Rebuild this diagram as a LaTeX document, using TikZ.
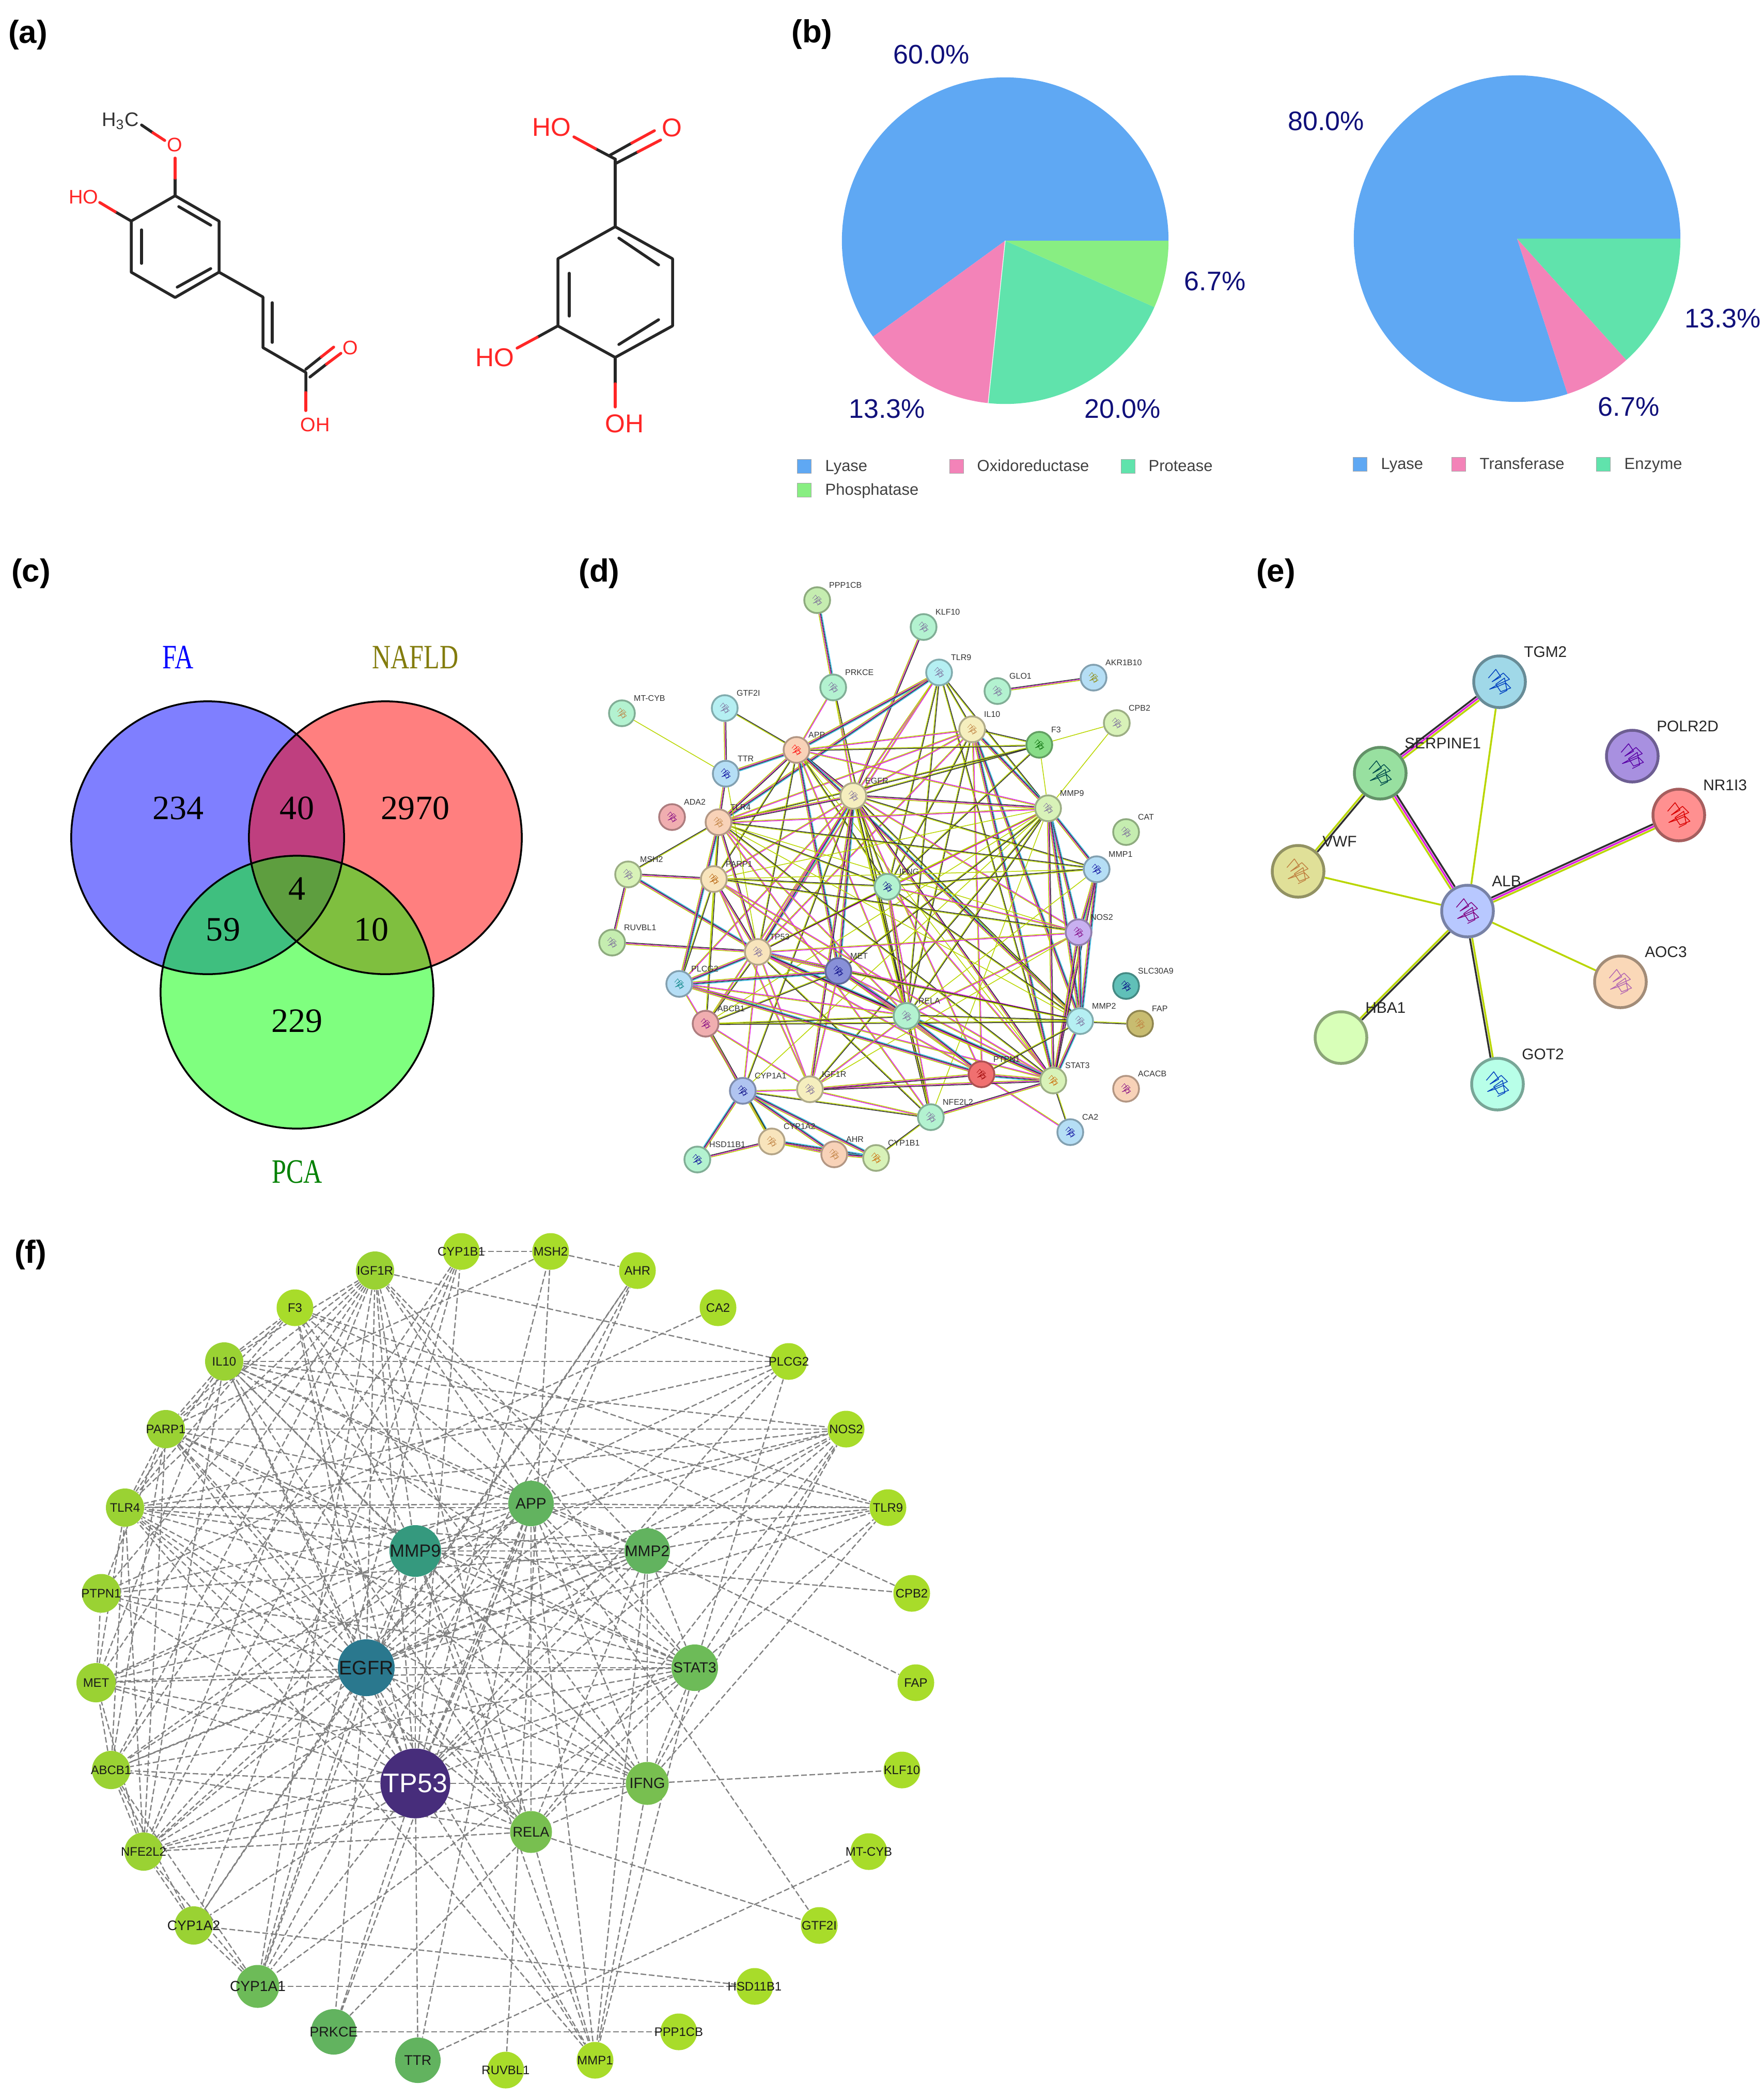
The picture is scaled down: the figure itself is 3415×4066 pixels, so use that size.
\documentclass[tikz,border=0pt]{standalone}
\usepackage{fontspec}
\setmainfont{Liberation Sans}
\newfontfamily\vennfont{Liberation Serif}
\usetikzlibrary{backgrounds,decorations}
\pgfdeclaredecoration{strandline}{initial}{
\state{initial}[width=\pgfdecoratedpathlength-.1pt,next state=final]{\pgfpathmoveto{\pgfpointorigin}\pgfpathlineto{\pgfpoint{\pgfdecoratedpathlength}{0pt}}}
\state{final}{}
}
\definecolor{atomred}{HTML}{FF2626}
\definecolor{bondgrey}{HTML}{262626}
\definecolor{pieblue}{HTML}{5FA8F3}
\definecolor{piepink}{HTML}{F383B8}
\definecolor{pieteal}{HTML}{60E3AC}
\definecolor{pielime}{HTML}{88EE82}
\definecolor{pietext}{HTML}{10107A}
\definecolor{legtext}{HTML}{404040}
\definecolor{linky}{HTML}{B9D600}
\definecolor{linkm}{HTML}{E020E0}
\definecolor{linkk}{HTML}{2F2F2F}
\definecolor{linkc}{HTML}{2FB5E5}
\definecolor{foldc}{HTML}{7A6A9A}
\definecolor{dsage}{HTML}{C5EDB0}
\definecolor{dmint}{HTML}{B3F2D0}
\definecolor{dcyan}{HTML}{B5EFF2}
\definecolor{dsky}{HTML}{B5DEF5}
\definecolor{dlime}{HTML}{D8F2B8}
\definecolor{dcream}{HTML}{F5EEBE}
\definecolor{dpeach}{HTML}{F8D2B8}
\definecolor{dsand}{HTML}{F8E4BC}
\definecolor{drose}{HTML}{F0AEB0}
\definecolor{dgreen}{HTML}{88DD88}
\definecolor{dmet}{HTML}{8890D8}
\definecolor{dnos}{HTML}{C8B0F0}
\definecolor{dteal}{HTML}{60C0B8}
\definecolor{dfap}{HTML}{C8BC70}
\definecolor{dred}{HTML}{F07070}
\definecolor{dblue}{HTML}{B0C4F0}
\definecolor{etgm}{HTML}{A0D8E8}
\definecolor{epol}{HTML}{A890E0}
\definecolor{eser}{HTML}{98E0A0}
\definecolor{enr}{HTML}{FF9090}
\definecolor{evwf}{HTML}{E0E098}
\definecolor{ealb}{HTML}{B8C8FF}
\definecolor{eaoc}{HTML}{FAD8B8}
\definecolor{ehba}{HTML}{D8FFB8}
\definecolor{egot}{HTML}{B8FFE8}
\definecolor{ftp}{HTML}{472D7B}
\definecolor{fegfr}{HTML}{2A788E}
\definecolor{fmmpn}{HTML}{35997E}
\definecolor{fapp}{HTML}{62B35F}
\definecolor{fsta}{HTML}{6DBB58}
\definecolor{fifn}{HTML}{78BF50}
\definecolor{fmid}{HTML}{9AD233}
\definecolor{fleaf}{HTML}{A8DC2A}
\tikzset{
panel/.style={font=\fontsize{17.6}{20}\selectfont\bfseries, inner sep=0pt},
bondk/.style={bondgrey, line width=.055cm, line cap=round, line join=round},
bondr/.style={atomred, line width=.055cm, line cap=round},
atomsm/.style={font=\fontsize{10.8}{12}\selectfont, text=atomred, inner sep=0pt},
atomlg/.style={font=\fontsize{14.2}{16}\selectfont, text=atomred, inner sep=0pt},
pct/.style={font=\fontsize{14.8}{17}\selectfont, text=pietext, inner sep=0pt},
legbox/.style={draw=gray!70, line width=.015cm, inner sep=0pt, minimum size=.27cm, fill=#1},
legtxt/.style={font=\fontsize{8.8}{10}\selectfont, text=legtext, inner sep=0pt, anchor=west, text height=.23cm, text depth=.07cm},
vennbub/.style={circle, inner sep=0pt, minimum size=5.28cm, fill=#1, fill opacity=.5},
vline/.style={black, line width=.035cm},
vnum/.style={font=\vennfont\fontsize{18.8}{20}\selectfont, inner sep=0pt},
vname/.style={font=\vennfont\fontsize{18.8}{20}\selectfont, inner sep=0pt, xscale=.76, text=#1},
foldink/.code={\colorlet{foldc}{#1}},
fold/.style={path picture={\draw[shift={(path picture bounding box.center)}, x=#1cm, y=-#1cm, foldc, line width=.6*#1cm, line join=round] (-9,-3) -- (-3,-10) -- (1,-4) -- (-6,0) -- (3,-7) -- (8,-2) -- (-1,2) -- (-8,6) -- (-2,4) -- (5,1) -- (9,5) -- (1,8) -- (-3,2) -- (4,-3) -- (6,7) -- (0,10);}},
dnode/.style={circle, inner sep=0pt, minimum size=.5cm, line width=.035cm, fill=#1, draw=#1!72!black, fold=.01},
dlab/.style={font=\fontsize{4.55}{5}\selectfont, text=black!80, inner sep=0pt, label distance=.05cm},
enode/.style={circle, inner sep=0pt, minimum size=1cm, line width=.055cm, fill=#1, draw=#1!65!black, fold=.024},
ehba/.style={circle, inner sep=0pt, minimum size=1cm, line width=.055cm, fill=ehba, draw=ehba!65!black},
elab/.style={font=\fontsize{8.5}{10}\selectfont, text=black!85, inner sep=0pt, label distance=.13cm},
over/.style={postaction={draw=#1, decorate, decoration={strandline, raise=\gap}}},
under/.style={postaction={draw=#1, decorate, decoration={strandline, raise=-\gap}}},
overtwo/.style={postaction={draw=#1, decorate, decoration={strandline, raise=2*\gap}}},
ye/.style={linky},
ym/.style={linky, over=linkm},
yk/.style={linky, over=linkk},
ymk/.style={linkm, over=linkk, under=linky},
ymkc/.style={linkm, over=linkk, under=linky, overtwo=linkc},
fbub/.style={circle, inner sep=0pt, minimum size=.71cm, fill=#1},
flab/.style={font=\fontsize{6.8}{8}\selectfont, text=black!90, inner sep=0pt},
fedge/.style={draw=black!50, line width=.024cm, dash pattern=on .11cm off .05cm},
}
\begin{document}
\begin{tikzpicture}[x=.01cm, y=-.01cm]
\useasboundingbox (0,0) rectangle (3415,4066);
\node[panel] (pa) at (54,67){(a)};
\node[panel] (pb) at (1572,66){(b)};
\node[panel] (pc) at (60,1110){(c)};
\node[panel] (pd) at (1160,1110){(d)};
\node[panel] (pe) at (2470,1110){(e)};
\node[panel] (pf) at (59,2429){(f)};

\coordinate (fa1) at (339,379);
\coordinate (fa2) at (424,428);
\coordinate (fa3) at (424,527);
\coordinate (fa4) at (339,576);
\coordinate (fa5) at (254,527);
\coordinate (fa6) at (254,428);
\coordinate (fam) at (339,345);
\coordinate (fao) at (339,306);
\coordinate (fah1) at (319,272);
\coordinate (fah2) at (296,257);
\coordinate (fah3) at (274,242);
\coordinate (fab) at (223,410);
\coordinate (fac) at (193,392);
\coordinate (fc1) at (509,575);
\coordinate (fc2) at (509,673);
\coordinate (fc3) at (592,721);
\coordinate (fc4) at (592,760);
\coordinate (fc5) at (592,795);
\draw[bondk](fa1) -- (fa2) -- (fa3) -- (fa4) -- (fa5) -- (fa6) -- cycle;
\draw[bondk](fa1) -- (fam);
\draw[bondr](fam) -- (fao);
\draw[bondk](fah3) -- (fah2);
\draw[bondr](fah2) -- (fah1);
\draw[bondk](fa6) -- (fab);
\draw[bondr](fab) -- (fac);
\draw[bondk](346,400) -- (408,436);
\draw[bondk](274,445) -- (274,510);
\draw[bondk](343,556) -- (408,520);
\draw[bondk](fa3) -- (fc1) -- (fc2) -- (fc3) -- (fc4);
\draw[bondk](527,586) -- (527,663);
\draw[bondr](fc4) -- (fc5);
\draw[bondk](592,715) -- (622,691);
\draw[bondk](600,730) -- (632,705);
\draw[bondr](622,691) -- (646,672);
\draw[bondr](632,705) -- (660,684);
\node[font=\fontsize{10.8}{12}\selectfont, text=black!80, inner sep=0pt] (lfa1) at (233,234){H\textsubscript{3}C};
\node[atomsm] (lfa2) at (338,280){O};
\node[atomsm] (lfa3) at (162,381){HO};
\node[atomsm] (lfa4) at (678,673){O};
\node[atomsm] (lfa5) at (610,822){OH};

\coordinate (pc1) at (1191,439);
\coordinate (pc2) at (1302,501);
\coordinate (pc3) at (1302,631);
\coordinate (pc4) at (1191,692);
\coordinate (pc5) at (1080,631);
\coordinate (pc6) at (1080,501);
\coordinate (pcc) at (1191,308);
\draw[bondk](pc1) -- (pc2) -- (pc3) -- (pc4) -- (pc5) -- (pc6) -- cycle;
\draw[bondk](1198,461) -- (1275,513);
\draw[bondk](1275,619) -- (1198,667);
\draw[bondk](1102,529) -- (1102,612);
\draw[bondk](pc1) -- (pcc);
\draw[bondk](pcc) -- (1153,288);
\draw[bondr](1153,288) -- (1111,265);
\draw[bondk](1191,317) -- (1235,294);
\draw[bondk](1180,301) -- (1223,277);
\draw[bondr](1235,294) -- (1279,271);
\draw[bondr](1223,277) -- (1267,253);
\draw[bondk](pc5) -- (1040,653);
\draw[bondr](1040,653) -- (1001,674);
\draw[bondk](pc4) -- (1191,743);
\draw[bondr](1191,743) -- (1191,788);
\node[atomlg] (lpc1) at (1068,246){HO};
\node[atomlg] (lpc2) at (1301,247){O};
\node[atomlg] (lpc3) at (958,692){HO};
\node[atomlg] (lpc4) at (1209,820){OH};

\coordinate (pieA) at (1946,466);
\fill[pieblue](pieA) -- ++(0:3.16cm) arc[start angle=0, end angle=216, radius=3.16cm] -- cycle;
\fill[piepink](pieA) -- ++(216:3.16cm) arc[start angle=216, end angle=264, radius=3.16cm] -- cycle;
\fill[pieteal](pieA) -- ++(264:3.16cm) arc[start angle=264, end angle=336, radius=3.16cm] -- cycle;
\fill[pielime](pieA) -- ++(336:3.16cm) arc[start angle=336, end angle=360, radius=3.16cm] -- cycle;
\draw[white, line width=.012cm](pieA) -- ++(264:3.16cm);
\coordinate (pieB) at (2937,462);
\fill[pieblue](pieB) -- ++(0:3.16cm) arc[start angle=0, end angle=288, radius=3.16cm] -- cycle;
\fill[piepink](pieB) -- ++(288:3.16cm) arc[start angle=288, end angle=312, radius=3.16cm] -- cycle;
\fill[pieteal](pieB) -- ++(312:3.16cm) arc[start angle=312, end angle=360, radius=3.16cm] -- cycle;
\node[pct] (pctA1) at (1803,106){60.0\%};
\node[pct] (pctA2) at (2352,545){6.7\%};
\node[pct] (pctA3) at (1717,792){13.3\%};
\node[pct] (pctA4) at (2173,792){20.0\%};
\node[pct] (pctB1) at (2567,235){80.0\%};
\node[pct] (pctB2) at (3335,617){13.3\%};
\node[pct] (pctB3) at (3153,788){6.7\%};
\node[legbox=pieblue] (lgA1) at (1557,903){};
\node[legtxt] (ltA1) at (1597,904){Lyase};
\node[legbox=piepink] (lgA2) at (1852,903){};
\node[legtxt] (ltA2) at (1891,904){Oxidoreductase};
\node[legbox=pieteal] (lgA3) at (2184,903){};
\node[legtxt] (ltA3) at (2223,904){Protease};
\node[legbox=pielime] (lgA4) at (1557,949){};
\node[legtxt] (ltA4) at (1597,950){Phosphatase};
\node[legbox=pieblue] (lgB1) at (2633,899){};
\node[legtxt] (ltB1) at (2673,900){Lyase};
\node[legbox=piepink] (lgB2) at (2824,899){};
\node[legtxt] (ltB2) at (2864,900){Transferase};
\node[legbox=pieteal] (lgB3) at (3104,899){};
\node[legtxt] (ltB3) at (3144,900){Enzyme};

\node[vennbub=blue] (vFA) at (402,1622){};
\node[vennbub=red] (vNA) at (746,1622){};
\node[vennbub=green] (vPC) at (575,1921){};
\draw[vline](vFA.center) circle[radius=2.64cm];
\draw[vline](vNA.center) circle[radius=2.64cm];
\draw[vline](vPC.center) circle[radius=2.64cm];
\node[vnum] (n234) at (345,1565){234};
\node[vnum] (n40) at (575,1565){40};
\node[vnum] (n2970) at (804,1565){2970};
\node[vnum] (n59) at (432,1800){59};
\node[vnum] (n4) at (575,1721){4};
\node[vnum] (n10) at (719,1800){10};
\node[vnum] (n229) at (575,1977){229};
\node[vname=blue] (tFA) at (345,1273){FA};
\node[vname={olive!90!black}] (tNA) at (804,1273){NAFLD};
\node[vname={green!50!black}] (tPC) at (575,2269){PCA};

\node[dnode=dsage, label={[dlab]45:PPP1CB}] (dPPP1CB) at (1582,1162){};
\node[dnode=dmint, label={[dlab]45:KLF10}] (dKLF10) at (1788,1214){};
\node[dnode=dcyan, label={[dlab]45:TLR9}] (dTLR9) at (1818,1302){};
\node[dnode=dmint, label={[dlab]45:PRKCE}] (dPRKCE) at (1613,1331){};
\node[dnode=dmint, label={[dlab]45:GLO1}] (dGLO1) at (1931,1338){};
\node[dnode=dsky, label={[dlab]45:AKR1B10}, foldink=olive] (dAKR1B10) at (2117,1312){};
\node[dnode=dmint, foldink=brown, label={[dlab]45:MT-CYB}] (dMTCYB) at (1204,1381){};
\node[dnode=dcyan, label={[dlab]45:GTF2I}] (dGTF2I) at (1403,1371){};
\node[dnode=dlime, label={[dlab]45:CPB2}] (dCPB2) at (2162,1400){};
\node[dnode=dcream, foldink=brown, label={[dlab]45:IL10}] (dIL10) at (1882,1412){};
\node[dnode=dgreen, foldink=green!40!black, label={[dlab]45:F3}] (dF3) at (2012,1442){};
\node[dnode=dpeach, foldink=red, label={[dlab]45:APP}] (dAPP) at (1542,1452){};
\node[dnode=dsky, foldink=blue!60!black, label={[dlab]45:TTR}] (dTTR) at (1405,1498){};
\node[dnode=dcream, label={[dlab]45:EGFR}] (dEGFR) at (1652,1541){};
\node[dnode=dlime, label={[dlab]45:MMP9}] (dMMP9) at (2029,1565){};
\node[dnode=drose, foldink=violet, label={[dlab]45:ADA2}] (dADA2) at (1301,1582){};
\node[dnode=dpeach, foldink=brown, label={[dlab]45:TLR4}] (dTLR4) at (1391,1592){};
\node[dnode=dsage, label={[dlab]45:CAT}] (dCAT) at (2180,1611){};
\node[dnode=dsky, foldink=blue!60!black, label={[dlab]45:MMP1}] (dMMP1) at (2123,1683){};
\node[dnode=dlime, label={[dlab]45:MSH2}] (dMSH2) at (1216,1693){};
\node[dnode=dsand, foldink=orange!70!black, label={[dlab]45:PARP1}] (dPARP1) at (1382,1702){};
\node[dnode=dmint, foldink=blue!50!black, label={[dlab]45:IFNG}] (dIFNG) at (1718,1717){};
\node[dnode=dnos, foldink=violet, label={[dlab]45:NOS2}] (dNOS2) at (2088,1805){};
\node[dnode=dsage, label={[dlab]45:RUVBL1}] (dRUVBL1) at (1185,1825){};
\node[dnode=dsand, label={[dlab]45:TP53}] (dTP53) at (1467,1843){};
\node[dnode=dmet, foldink=blue!50!black, label={[dlab]45:MET}] (dMET) at (1623,1880){};
\node[dnode=dsky, foldink=teal, label={[dlab]45:PLCG2}] (dPLCG2) at (1315,1905){};
\node[dnode=dteal, foldink=blue!50!black, label={[dlab]45:SLC30A9}] (dSLC30A9) at (2180,1909){};
\node[dnode=dmint, label={[dlab]45:RELA}] (dRELA) at (1755,1967){};
\node[dnode=dcyan, label={[dlab]45:MMP2}] (dMMP2) at (2091,1977){};
\node[dnode=drose, foldink=violet, label={[dlab]45:ABCB1}] (dABCB1) at (1366,1982){};
\node[dnode=dfap, foldink=brown, label={[dlab]45:FAP}] (dFAP) at (2207,1982){};
\node[dnode=dred, foldink=red!60!black, label={[dlab]45:PTPN1}] (dPTPN1) at (1900,2080){};
\node[dnode=dlime, foldink=orange!80!black, label={[dlab]45:STAT3}] (dSTAT3) at (2039,2092){};
\node[dnode=dpeach, foldink=violet, label={[dlab]45:ACACB}] (dACACB) at (2180,2108){};
\node[dnode=dcream, label={[dlab]45:IGF1R}] (dIGF1R) at (1568,2109){};
\node[dnode=dblue, foldink=blue!50!black, label={[dlab]45:CYP1A1}] (dCYP1A1) at (1438,2112){};
\node[dnode=dmint, label={[dlab]45:NFE2L2}] (dNFE2L2) at (1802,2163){};
\node[dnode=dsky, foldink=blue!60!black, label={[dlab]45:CA2}] (dCA2) at (2072,2192){};
\node[dnode=dsand, foldink=brown, label={[dlab]45:CYP1A2}] (dCYP1A2) at (1494,2210){};
\node[dnode=dpeach, foldink=brown, label={[dlab]45:AHR}] (dAHR) at (1615,2235){};
\node[dnode=dlime, foldink=orange!80!black, label={[dlab]45:CYP1B1}] (dCYP1B1) at (1696,2242){};
\node[dnode=dmint, foldink=blue!60!black, label={[dlab]45:HSD11B1}] (dHSD11B1) at (1350,2245){};

\begin{pgfonlayer}{background}
\begin{scope}[line width=.015cm]
\def\gap{.018cm}
\draw[ymk](dGLO1) -- (dAKR1B10);
\draw[ymkc](dPPP1CB) -- (dPRKCE);
\draw[ymk](dKLF10) -- (dEGFR);
\draw[ye](dMTCYB) -- (dTTR);
\draw[ymk](dGTF2I) -- (dTTR);
\draw[yk](dGTF2I) -- (dAPP);
\draw[ye](dCPB2) -- (dF3);
\draw[ye](dCPB2) -- (dMMP9);
\draw[ye](dF3) -- (dMMP9);
\draw[yk](dFAP) -- (dMMP2);
\draw[yk](dCA2) -- (dSTAT3);
\draw[ym](dCA2) -- (dPTPN1);
\draw[ymk](dRUVBL1) -- (dMSH2);
\draw[ymk](dRUVBL1) -- (dTP53);
\draw[ymk](dMSH2) -- (dPARP1);
\draw[ymkc](dMSH2) -- (dTP53);
\draw[yk](dMSH2) -- (dTLR4);
\draw[ymkc](dHSD11B1) -- (dCYP1A1);
\draw[ymk](dHSD11B1) -- (dCYP1A2);
\draw[ymkc](dCYP1A1) -- (dCYP1A2);
\draw[ymkc](dCYP1A1) -- (dAHR);
\draw[ymkc](dCYP1A1) -- (dCYP1B1);
\draw[ymkc](dCYP1A2) -- (dAHR);
\draw[ymkc](dCYP1A2) -- (dCYP1B1);
\draw[ymkc](dAHR) -- (dCYP1B1);
\draw[yk](dCYP1A1) -- (dABCB1);
\draw[yk](dABCB1) -- (dCYP1A2);
\draw[ym](dABCB1) -- (dIGF1R);
\draw[yk](dCYP1B1) -- (dNFE2L2);
\draw[ymk](dNFE2L2) -- (dSTAT3);
\draw[ymk](dNFE2L2) -- (dRELA);
\draw[yk](dNFE2L2) -- (dTP53);
\draw[ym](dNFE2L2) -- (dIGF1R);
\draw[yk](dNFE2L2) -- (dCYP1A1);
\draw[ym](dPRKCE) -- (dAPP);
\draw[ym](dPRKCE) -- (dEGFR);
\draw[yk](dPRKCE) -- (dRELA);
\draw[ymkc](dTLR9) -- (dAPP);
\draw[ym](dTLR9) -- (dEGFR);
\draw[ymkc](dTLR9) -- (dTLR4);
\draw[yk](dTLR9) -- (dIL10);
\draw[yk](dTLR9) -- (dMMP9);
\draw[yk](dTLR9) -- (dIFNG);
\draw[ym](dTLR9) -- (dTP53);
\draw[yk](dTLR9) -- (dRELA);
\draw[yk](dTLR9) -- (dSTAT3);
\draw[ym](dIL10) -- (dAPP);
\draw[ym](dIL10) -- (dEGFR);
\draw[ym](dIL10) -- (dTLR4);
\draw[yk](dIL10) -- (dF3);
\draw[ymkc](dIL10) -- (dMMP9);
\draw[yk](dIL10) -- (dIFNG);
\draw[ymkc](dIL10) -- (dSTAT3);
\draw[ymkc](dIL10) -- (dMMP2);
\draw[ym](dIL10) -- (dPTPN1);
\draw[yk](dIL10) -- (dRELA);
\draw[ym](dIL10) -- (dTP53);
\draw[yk](dF3) -- (dAPP);
\draw[yk](dF3) -- (dEGFR);
\draw[yk](dF3) -- (dTLR4);
\draw[yk](dF3) -- (dIFNG);
\draw[ymkc](dAPP) -- (dTTR);
\draw[ymk](dAPP) -- (dTLR4);
\draw[ymk](dAPP) -- (dEGFR);
\draw[ym](dAPP) -- (dMMP9);
\draw[ymkc](dAPP) -- (dMMP2);
\draw[ymkc](dAPP) -- (dMET);
\draw[yk](dAPP) -- (dIFNG);
\draw[yk](dAPP) -- (dTP53);
\draw[ym](dAPP) -- (dRELA);
\draw[yk](dAPP) -- (dPARP1);
\draw[ye](dAPP) -- (dSTAT3);
\draw[ymk](dTTR) -- (dTLR4);
\draw[ye](dTTR) -- (dTP53);
\draw[ymk](dEGFR) -- (dMMP9);
\draw[ymk](dEGFR) -- (dTLR4);
\draw[ym](dEGFR) -- (dPARP1);
\draw[yk](dEGFR) -- (dIFNG);
\draw[ymkc](dEGFR) -- (dTP53);
\draw[ymkc](dEGFR) -- (dMET);
\draw[ym](dEGFR) -- (dPLCG2);
\draw[ym](dEGFR) -- (dABCB1);
\draw[ymk](dEGFR) -- (dRELA);
\draw[yk](dEGFR) -- (dMMP2);
\draw[ymk](dEGFR) -- (dSTAT3);
\draw[ymk](dEGFR) -- (dIGF1R);
\draw[ym](dEGFR) -- (dNOS2);
\draw[yk](dEGFR) -- (dCYP1A1);
\draw[yk](dEGFR) -- (dMMP1);
\draw[yk](dEGFR) -- (dNFE2L2);
\draw[ym](dEGFR) -- (dPTPN1);
\draw[ymkc](dMMP9) -- (dMMP1);
\draw[ymkc](dMMP9) -- (dNOS2);
\draw[ymkc](dMMP9) -- (dMMP2);
\draw[ymk](dMMP9) -- (dSTAT3);
\draw[yk](dMMP9) -- (dRELA);
\draw[ym](dMMP9) -- (dTLR4);
\draw[yk](dMMP9) -- (dIFNG);
\draw[ym](dMMP9) -- (dTP53);
\draw[ye](dMMP9) -- (dNFE2L2);
\draw[yk](dMMP9) -- (dIGF1R);
\draw[ye](dMMP9) -- (dPARP1);
\draw[yk](dMMP9) -- (dMET);
\draw[ye](dMMP9) -- (dABCB1);
\draw[ye](dMMP9) -- (dCYP1A1);
\draw[ym](dTLR4) -- (dPARP1);
\draw[ymk](dTLR4) -- (dTP53);
\draw[ymkc](dTLR4) -- (dPLCG2);
\draw[yk](dTLR4) -- (dIFNG);
\draw[yk](dTLR4) -- (dMMP1);
\draw[ye](dTLR4) -- (dNOS2);
\draw[ym](dTLR4) -- (dRELA);
\draw[yk](dTLR4) -- (dSTAT3);
\draw[ye](dTLR4) -- (dMMP2);
\draw[ym](dTLR4) -- (dNFE2L2);
\draw[yk](dTLR4) -- (dABCB1);
\draw[ymk](dPARP1) -- (dTP53);
\draw[yk](dPARP1) -- (dIFNG);
\draw[yk](dPARP1) -- (dNOS2);
\draw[ye](dPARP1) -- (dMMP1);
\draw[ym](dPARP1) -- (dRELA);
\draw[ym](dPARP1) -- (dSTAT3);
\draw[ym](dPARP1) -- (dIGF1R);
\draw[ye](dPARP1) -- (dABCB1);
\draw[yk](dPARP1) -- (dPLCG2);
\draw[yk](dIFNG) -- (dMMP1);
\draw[ym](dIFNG) -- (dNOS2);
\draw[ymk](dIFNG) -- (dRELA);
\draw[yk](dIFNG) -- (dMMP2);
\draw[ym](dIFNG) -- (dSTAT3);
\draw[yk](dIFNG) -- (dTP53);
\draw[ym](dIFNG) -- (dNFE2L2);
\draw[ymkc](dMMP1) -- (dNOS2);
\draw[ymkc](dMMP1) -- (dMMP2);
\draw[ymk](dMMP1) -- (dSTAT3);
\draw[ye](dMMP1) -- (dRELA);
\draw[ymkc](dNOS2) -- (dMMP2);
\draw[ymk](dNOS2) -- (dSTAT3);
\draw[ym](dNOS2) -- (dRELA);
\draw[ym](dNOS2) -- (dTP53);
\draw[ye](dNOS2) -- (dIGF1R);
\draw[ymkc](dTP53) -- (dMET);
\draw[ymkc](dTP53) -- (dPLCG2);
\draw[yk](dTP53) -- (dABCB1);
\draw[ym](dTP53) -- (dCYP1A1);
\draw[ym](dTP53) -- (dIGF1R);
\draw[ymkc](dTP53) -- (dRELA);
\draw[ymk](dTP53) -- (dSTAT3);
\draw[ym](dTP53) -- (dPTPN1);
\draw[ym](dTP53) -- (dMMP2);
\draw[ymkc](dMET) -- (dPLCG2);
\draw[yk](dMET) -- (dABCB1);
\draw[ym](dMET) -- (dIGF1R);
\draw[ymkc](dMET) -- (dRELA);
\draw[ym](dMET) -- (dSTAT3);
\draw[ym](dMET) -- (dPTPN1);
\draw[yk](dMET) -- (dMMP2);
\draw[ym](dPLCG2) -- (dRELA);
\draw[ymkc](dPLCG2) -- (dPTPN1);
\draw[ym](dPLCG2) -- (dSTAT3);
\draw[ym](dPLCG2) -- (dCYP1A1);
\draw[yk](dRELA) -- (dMMP2);
\draw[ymkc](dRELA) -- (dSTAT3);
\draw[ymkc](dRELA) -- (dPTPN1);
\draw[ym](dRELA) -- (dIGF1R);
\draw[yk](dRELA) -- (dABCB1);
\draw[ymkc](dMMP2) -- (dSTAT3);
\draw[yk](dMMP2) -- (dPTPN1);
\draw[yk](dMMP2) -- (dABCB1);
\draw[ymkc](dSTAT3) -- (dPTPN1);
\draw[ymk](dSTAT3) -- (dIGF1R);
\draw[ymk](dPTPN1) -- (dIGF1R);
\draw[ym](dIGF1R) -- (dCYP1A1);
\end{scope}
\end{pgfonlayer}

\node[enode=etgm, foldink=blue!50!teal, label={[elab]45:TGM2}] (eTGM2) at (2903,1320){};
\node[enode=epol, foldink=violet!70!blue, label={[elab]45:POLR2D}] (ePOLR2D) at (3160,1464){};
\node[enode=eser, foldink=teal!60!black, label={[elab]45:SERPINE1}] (eSERPINE1) at (2672,1497){};
\node[enode=enr, foldink=red!85!black, label={[elab]45:NR1I3}] (eNR1I3) at (3250,1578){};
\node[enode=evwf, foldink=brown, label={[elab]45:VWF}] (eVWF) at (2513,1687){};
\node[enode=ealb, foldink=violet, label={[elab]45:ALB}] (eALB) at (2841,1764){};
\node[enode=eaoc, foldink=violet!60, label={[elab]45:AOC3}] (eAOC3) at (3137,1901){};
\node[ehba, label={[elab]45:HBA1}] (eHBA1) at (2596,2009){};
\node[enode=egot, foldink=blue!50!teal, label={[elab]45:GOT2}] (eGOT2) at (2899,2099){};
\begin{pgfonlayer}{background}
\begin{scope}[line width=.035cm]
\def\gap{.045cm}
\draw[ymk](eSERPINE1) -- (eTGM2);
\draw[yk](eSERPINE1) -- (eVWF);
\draw[ymk](eSERPINE1) -- (eALB);
\draw[ye](eTGM2) -- (eALB);
\draw[ye](eVWF) -- (eALB);
\draw[ymk](eALB) -- (eNR1I3);
\draw[ye](eAOC3) -- (eALB);
\draw[yk](eALB) -- (eHBA1);
\draw[yk](eGOT2) -- (eALB);
\end{scope}
\end{pgfonlayer}

\node[fbub=ftp, minimum size=1.35cm, label={[flab, font=\fontsize{14.8}{17}\selectfont, text=white]center:TP53}] (fTP53) at (804,3453){};
\node[fbub=fegfr, minimum size=1.1cm, label={[flab, font=\fontsize{10.8}{12}\selectfont]center:EGFR}] (fEGFR) at (709,3229){};
\node[fbub=fmmpn, minimum size=1cm, label={[flab, font=\fontsize{9.7}{11}\selectfont]center:MMP9}] (fMMP9) at (804,3003){};
\node[fbub=fapp, minimum size=.88cm, label={[flab, font=\fontsize{8.5}{10}\selectfont]center:APP}] (fAPP) at (1028,2911){};
\node[fbub=fapp, minimum size=.88cm, label={[flab, font=\fontsize{8.5}{10}\selectfont]center:MMP2}] (fMMP2) at (1253,3003){};
\node[fbub=fsta, minimum size=.9cm, label={[flab, font=\fontsize{8}{9}\selectfont]center:STAT3}] (fSTAT3) at (1345,3229){};
\node[fbub=fifn, minimum size=.83cm, label={[flab, font=\fontsize{8.2}{9}\selectfont]center:IFNG}] (fIFNG) at (1253,3453){};
\node[fbub=fifn, minimum size=.81cm, label={[flab, font=\fontsize{7.7}{9}\selectfont]center:RELA}] (fRELA) at (1028,3547){};
\node[fbub=fapp, minimum size=.88cm, label={[flab, font=\fontsize{7.7}{9}\selectfont]center:PRKCE}] (fPRKCE) at (646,3934){};
\node[fbub=fapp, minimum size=.88cm, label={[flab, font=\fontsize{7.7}{9}\selectfont]center:TTR}] (fTTR) at (809,3989){};
\node[fbub=fsta, minimum size=.83cm, label={[flab, font=\fontsize{8}{9}\selectfont]center:CYP1A1}] (fCYP1A1) at (499,3846){};
\node[fbub=fmid, minimum size=.74cm, label={[flab, font=\fontsize{7.6}{9}\selectfont]center:CYP1A2}] (fCYP1A2) at (375,3728){};
\node[fbub=fmid, minimum size=.74cm, label={[flab]center:NFE2L2}] (fNFE2L2) at (278,3585){};
\node[fbub=fmid, minimum size=.74cm, label={[flab]center:ABCB1}] (fABCB1) at (215,3427){};
\node[fbub=fmid, minimum size=.76cm, label={[flab]center:MET}] (fMET) at (186,3258){};
\node[fbub=fmid, minimum size=.75cm, label={[flab]center:PTPN1}] (fPTPN1) at (196,3085){};
\node[fbub=fmid, minimum size=.74cm, label={[flab]center:TLR4}] (fTLR4) at (242,2919){};
\node[fbub=fmid, minimum size=.74cm, label={[flab]center:PARP1}] (fPARP1) at (321,2767){};
\node[fbub=fmid, minimum size=.74cm, label={[flab]center:IL10}] (fIL10) at (434,2636){};
\node[fbub=fmid, minimum size=.74cm, label={[flab]center:IGF1R}] (fIGF1R) at (726,2460){};
\node[fbub=fleaf, label={[flab]center:F3}] (fF3) at (571,2532){};
\node[fbub=fleaf, label={[flab]center:CYP1B1}] (fCYP1B1) at (893,2423){};
\node[fbub=fleaf, label={[flab]center:MSH2}] (fMSH2) at (1066,2423){};
\node[fbub=fleaf, label={[flab]center:AHR}] (fAHR) at (1234,2460){};
\node[fbub=fleaf, label={[flab]center:CA2}] (fCA2) at (1390,2532){};
\node[fbub=fleaf, label={[flab]center:PLCG2}] (fPLCG2) at (1527,2636){};
\node[fbub=fleaf, label={[flab]center:NOS2}] (fNOS2) at (1638,2767){};
\node[fbub=fleaf, label={[flab]center:TLR9}] (fTLR9) at (1719,2919){};
\node[fbub=fleaf, label={[flab]center:CPB2}] (fCPB2) at (1765,3085){};
\node[fbub=fleaf, label={[flab]center:FAP}] (fFAP) at (1773,3258){};
\node[fbub=fleaf, label={[flab]center:KLF10}] (fKLF10) at (1746,3427){};
\node[fbub=fleaf, label={[flab]center:MT-CYB}] (fMTCYB) at (1682,3585){};
\node[fbub=fleaf, label={[flab]center:GTF2I}] (fGTF2I) at (1586,3728){};
\node[fbub=fleaf, label={[flab]center:HSD11B1}] (fHSD11B1) at (1461,3846){};
\node[fbub=fleaf, label={[flab]center:PPP1CB}] (fPPP1CB) at (1314,3934){};
\node[fbub=fleaf, label={[flab]center:MMP1}] (fMMP1) at (1152,3989){};
\node[fbub=fleaf, label={[flab]center:RUVBL1}] (fRUVBL1) at (979,4008){};

\begin{pgfonlayer}{background}
\draw[fedge](fTP53) -- (fEGFR);
\draw[fedge](fTP53) -- (fMMP9);
\draw[fedge](fTP53) -- (fAPP);
\draw[fedge](fTP53) -- (fMMP2);
\draw[fedge](fTP53) -- (fSTAT3);
\draw[fedge](fTP53) -- (fIFNG);
\draw[fedge](fTP53) -- (fRELA);
\draw[fedge](fTP53) -- (fIGF1R);
\draw[fedge](fTP53) -- (fCYP1B1);
\draw[fedge](fTP53) -- (fMSH2);
\draw[fedge](fTP53) -- (fIL10);
\draw[fedge](fTP53) -- (fPARP1);
\draw[fedge](fTP53) -- (fTLR4);
\draw[fedge](fTP53) -- (fPTPN1);
\draw[fedge](fTP53) -- (fMET);
\draw[fedge](fTP53) -- (fABCB1);
\draw[fedge](fTP53) -- (fNFE2L2);
\draw[fedge](fTP53) -- (fCYP1A2);
\draw[fedge](fTP53) -- (fCYP1A1);
\draw[fedge](fTP53) -- (fPRKCE);
\draw[fedge](fTP53) -- (fTTR);
\draw[fedge](fTP53) -- (fMMP1);
\draw[fedge](fTP53) -- (fNOS2);
\draw[fedge](fTP53) -- (fPLCG2);
\draw[fedge](fTP53) -- (fAHR);
\draw[fedge](fTP53) -- (fF3);
\draw[fedge](fEGFR) -- (fMMP9);
\draw[fedge](fEGFR) -- (fAPP);
\draw[fedge](fEGFR) -- (fMMP2);
\draw[fedge](fEGFR) -- (fSTAT3);
\draw[fedge](fEGFR) -- (fIFNG);
\draw[fedge](fEGFR) -- (fRELA);
\draw[fedge](fEGFR) -- (fIGF1R);
\draw[fedge](fEGFR) -- (fF3);
\draw[fedge](fEGFR) -- (fIL10);
\draw[fedge](fEGFR) -- (fPARP1);
\draw[fedge](fEGFR) -- (fTLR4);
\draw[fedge](fEGFR) -- (fTLR9);
\draw[fedge](fEGFR) -- (fPTPN1);
\draw[fedge](fEGFR) -- (fMET);
\draw[fedge](fEGFR) -- (fABCB1);
\draw[fedge](fEGFR) -- (fNFE2L2);
\draw[fedge](fEGFR) -- (fCYP1A1);
\draw[fedge](fEGFR) -- (fCYP1A2);
\draw[fedge](fEGFR) -- (fPRKCE);
\draw[fedge](fEGFR) -- (fMMP1);
\draw[fedge](fEGFR) -- (fNOS2);
\draw[fedge](fEGFR) -- (fPLCG2);
\draw[fedge](fEGFR) -- (fAHR);
\draw[fedge](fMMP9) -- (fAPP);
\draw[fedge](fMMP9) -- (fMMP2);
\draw[fedge](fMMP9) -- (fSTAT3);
\draw[fedge](fMMP9) -- (fIFNG);
\draw[fedge](fMMP9) -- (fRELA);
\draw[fedge](fMMP9) -- (fIGF1R);
\draw[fedge](fMMP9) -- (fF3);
\draw[fedge](fMMP9) -- (fIL10);
\draw[fedge](fMMP9) -- (fPARP1);
\draw[fedge](fMMP9) -- (fTLR4);
\draw[fedge](fMMP9) -- (fTLR9);
\draw[fedge](fMMP9) -- (fMET);
\draw[fedge](fMMP9) -- (fABCB1);
\draw[fedge](fMMP9) -- (fNFE2L2);
\draw[fedge](fMMP9) -- (fCYP1A1);
\draw[fedge](fMMP9) -- (fMMP1);
\draw[fedge](fMMP9) -- (fNOS2);
\draw[fedge](fMMP9) -- (fCPB2);
\draw[fedge](fAPP) -- (fMMP2);
\draw[fedge](fAPP) -- (fSTAT3);
\draw[fedge](fAPP) -- (fIFNG);
\draw[fedge](fAPP) -- (fRELA);
\draw[fedge](fAPP) -- (fIGF1R);
\draw[fedge](fAPP) -- (fIL10);
\draw[fedge](fAPP) -- (fPARP1);
\draw[fedge](fAPP) -- (fTLR4);
\draw[fedge](fAPP) -- (fTLR9);
\draw[fedge](fAPP) -- (fPTPN1);
\draw[fedge](fAPP) -- (fNFE2L2);
\draw[fedge](fAPP) -- (fPRKCE);
\draw[fedge](fAPP) -- (fTTR);
\draw[fedge](fAPP) -- (fMMP1);
\draw[fedge](fAPP) -- (fNOS2);
\draw[fedge](fAPP) -- (fF3);
\draw[fedge](fAPP) -- (fABCB1);
\draw[fedge](fAPP) -- (fGTF2I);
\draw[fedge](fMMP2) -- (fSTAT3);
\draw[fedge](fMMP2) -- (fIFNG);
\draw[fedge](fMMP2) -- (fRELA);
\draw[fedge](fMMP2) -- (fIGF1R);
\draw[fedge](fMMP2) -- (fIL10);
\draw[fedge](fMMP2) -- (fTLR4);
\draw[fedge](fMMP2) -- (fMET);
\draw[fedge](fMMP2) -- (fNFE2L2);
\draw[fedge](fMMP2) -- (fMMP1);
\draw[fedge](fMMP2) -- (fNOS2);
\draw[fedge](fMMP2) -- (fFAP);
\draw[fedge](fMMP2) -- (fPTPN1);
\draw[fedge](fMMP2) -- (fTLR9);
\draw[fedge](fMMP2) -- (fABCB1);
\draw[fedge](fSTAT3) -- (fIFNG);
\draw[fedge](fSTAT3) -- (fRELA);
\draw[fedge](fSTAT3) -- (fIGF1R);
\draw[fedge](fSTAT3) -- (fIL10);
\draw[fedge](fSTAT3) -- (fPARP1);
\draw[fedge](fSTAT3) -- (fTLR4);
\draw[fedge](fSTAT3) -- (fTLR9);
\draw[fedge](fSTAT3) -- (fPTPN1);
\draw[fedge](fSTAT3) -- (fMET);
\draw[fedge](fSTAT3) -- (fABCB1);
\draw[fedge](fSTAT3) -- (fNFE2L2);
\draw[fedge](fSTAT3) -- (fMMP1);
\draw[fedge](fSTAT3) -- (fNOS2);
\draw[fedge](fSTAT3) -- (fPLCG2);
\draw[fedge](fSTAT3) -- (fCYP1A1);
\draw[fedge](fIFNG) -- (fRELA);
\draw[fedge](fIFNG) -- (fIL10);
\draw[fedge](fIFNG) -- (fPARP1);
\draw[fedge](fIFNG) -- (fTLR4);
\draw[fedge](fIFNG) -- (fTLR9);
\draw[fedge](fIFNG) -- (fMET);
\draw[fedge](fIFNG) -- (fNFE2L2);
\draw[fedge](fIFNG) -- (fMMP1);
\draw[fedge](fIFNG) -- (fNOS2);
\draw[fedge](fIFNG) -- (fKLF10);
\draw[fedge](fIFNG) -- (fF3);
\draw[fedge](fRELA) -- (fIGF1R);
\draw[fedge](fRELA) -- (fIL10);
\draw[fedge](fRELA) -- (fPARP1);
\draw[fedge](fRELA) -- (fTLR4);
\draw[fedge](fRELA) -- (fNFE2L2);
\draw[fedge](fRELA) -- (fGTF2I);
\draw[fedge](fRELA) -- (fMMP1);
\draw[fedge](fRELA) -- (fNOS2);
\draw[fedge](fRELA) -- (fPRKCE);
\draw[fedge](fRELA) -- (fABCB1);
\draw[fedge](fIL10) -- (fF3);
\draw[fedge](fIL10) -- (fTLR4);
\draw[fedge](fIL10) -- (fPARP1);
\draw[fedge](fIL10) -- (fIGF1R);
\draw[fedge](fIL10) -- (fNOS2);
\draw[fedge](fIL10) -- (fTLR9);
\draw[fedge](fIL10) -- (fNFE2L2);
\draw[fedge](fIL10) -- (fMET);
\draw[fedge](fIL10) -- (fPLCG2);
\draw[fedge](fF3) -- (fTLR4);
\draw[fedge](fF3) -- (fPARP1);
\draw[fedge](fF3) -- (fCPB2);
\draw[fedge](fF3) -- (fTLR9);
\draw[fedge](fIGF1R) -- (fPLCG2);
\draw[fedge](fIGF1R) -- (fTLR4);
\draw[fedge](fIGF1R) -- (fPARP1);
\draw[fedge](fIGF1R) -- (fPTPN1);
\draw[fedge](fIGF1R) -- (fMET);
\draw[fedge](fIGF1R) -- (fNFE2L2);
\draw[fedge](fIGF1R) -- (fABCB1);
\draw[fedge](fIGF1R) -- (fCYP1A1);
\draw[fedge](fCYP1B1) -- (fMSH2);
\draw[fedge](fCYP1B1) -- (fCYP1A1);
\draw[fedge](fCYP1B1) -- (fCYP1A2);
\draw[fedge](fCYP1B1) -- (fNFE2L2);
\draw[fedge](fCYP1B1) -- (fABCB1);
\draw[fedge](fMSH2) -- (fAHR);
\draw[fedge](fMSH2) -- (fPARP1);
\draw[fedge](fMSH2) -- (fRUVBL1);
\draw[fedge](fAHR) -- (fCYP1A1);
\draw[fedge](fAHR) -- (fCYP1A2);
\draw[fedge](fCA2) -- (fPTPN1);
\draw[fedge](fPLCG2) -- (fTLR4);
\draw[fedge](fPLCG2) -- (fMET);
\draw[fedge](fNOS2) -- (fPARP1);
\draw[fedge](fNOS2) -- (fTLR4);
\draw[fedge](fTLR9) -- (fTLR4);
\draw[fedge](fTTR) -- (fMTCYB);
\draw[fedge](fPRKCE) -- (fPPP1CB);
\draw[fedge](fCYP1A1) -- (fCYP1A2);
\draw[fedge](fCYP1A1) -- (fNFE2L2);
\draw[fedge](fCYP1A1) -- (fABCB1);
\draw[fedge](fCYP1A1) -- (fHSD11B1);
\draw[fedge](fCYP1A2) -- (fNFE2L2);
\draw[fedge](fCYP1A2) -- (fABCB1);
\draw[fedge](fCYP1A2) -- (fHSD11B1);
\draw[fedge](fNFE2L2) -- (fABCB1);
\draw[fedge](fNFE2L2) -- (fTLR4);
\draw[fedge](fNFE2L2) -- (fPARP1);
\draw[fedge](fNFE2L2) -- (fMET);
\draw[fedge](fABCB1) -- (fMET);
\draw[fedge](fABCB1) -- (fTLR4);
\draw[fedge](fABCB1) -- (fPARP1);
\draw[fedge](fMET) -- (fPTPN1);
\draw[fedge](fMET) -- (fTLR4);
\draw[fedge](fPTPN1) -- (fPARP1);
\draw[fedge](fTLR4) -- (fPARP1);
\draw[fedge](fMMP1) -- (fTLR4);
\end{pgfonlayer}
\end{tikzpicture}
\end{document}
